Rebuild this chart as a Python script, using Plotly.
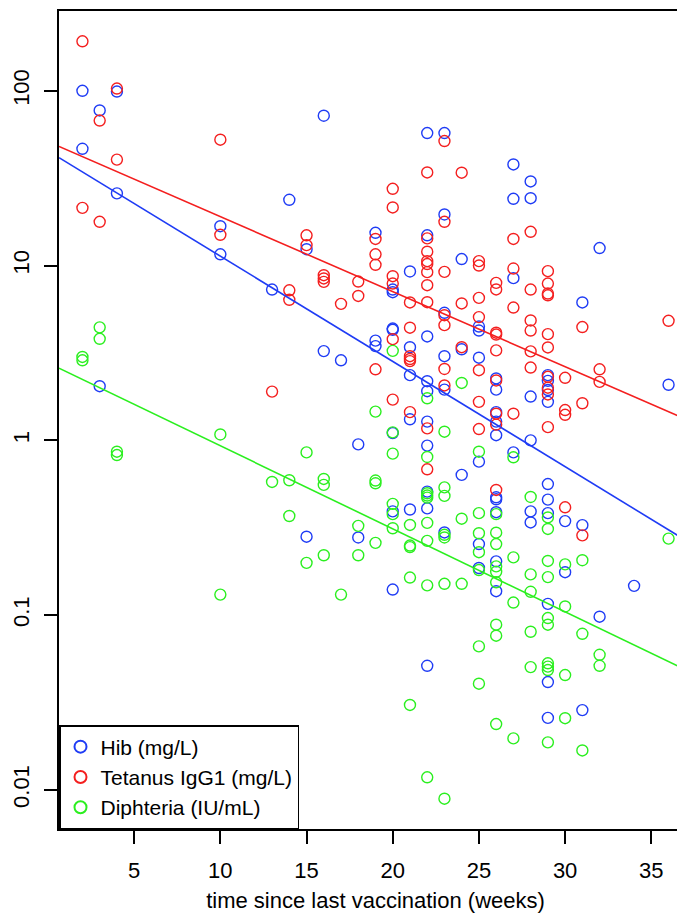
import numpy as np
import plotly.graph_objects as go

# ---------------- data ----------------
hib_weeks = [2, 2, 3, 3, 4, 4, 10, 10, 13, 14, 15, 15, 16, 16, 17, 18, 18,
             19, 19, 19,
             20, 20, 20, 20, 20, 20, 20,
             21, 21, 21, 21, 21,
             22, 22, 22, 22, 22, 22, 22, 22, 22, 22,
             23, 23, 23, 23, 23, 23,
             24, 24, 24,
             25, 25, 25, 25, 25, 25,
             26, 26, 26, 26, 26, 26, 26, 26, 26, 26,
             27, 27, 27, 27,
             28, 28, 28, 28, 28, 28,
             29, 29, 29, 29, 29, 29, 29, 29, 29, 29,
             30, 30, 31, 31, 31, 32, 32, 34, 36]
hib_values = [100, 46.6, 77.2, 2.04, 99, 25.9, 16.8, 11.6, 7.29, 23.8, 12.4, 0.281, 72, 3.24, 2.87, 0.948, 0.278,
              15.4, 3.72, 3.46,
              7.29, 7.04, 4.36, 4.29, 1.10, 0.392, 0.140,
              9.25, 3.41, 2.36, 1.32, 0.402,
              57.3, 14.9, 3.93, 2.18, 1.91, 1.28, 0.933, 0.509, 0.408, 0.0513,
              57.3, 19.6, 5.37, 3.03, 1.95, 0.297,
              10.9, 3.32, 0.634,
              4.48, 4.25, 2.97, 0.755, 0.255, 0.186,
              2.26, 1.95, 1.45, 1.28, 1.07, 0.472, 0.46, 0.388, 0.203, 0.137,
              37.9, 24.1, 8.47, 0.853,
              30.3, 24.3, 1.78, 1.0, 0.392, 0.339,
              2.36, 2.19, 1.94, 1.66, 0.562, 0.458, 0.383, 0.116, 0.0414, 0.0258,
              0.345, 0.176, 6.15, 0.327, 0.0286, 12.6, 0.0979, 0.147, 2.08]

tet_weeks = [2, 2, 3, 3, 4, 4, 10, 10, 13, 14, 14, 15, 15, 16, 16, 16, 17, 18, 18,
             19, 19, 19, 19,
             20, 20, 20, 20, 20, 20,
             21, 21, 21, 21, 21, 21,
             22, 22, 22, 22, 22, 22, 22, 22, 22, 22,
             23, 23, 23, 23, 23, 23, 23,
             24, 24, 24,
             25, 25, 25, 25, 25, 25, 25,
             26, 26, 26, 26, 26, 26, 26, 26, 26,
             27, 27, 27, 27,
             28, 28, 28, 28, 28, 28,
             29, 29, 29, 29, 29, 29, 29, 29, 29, 29,
             30, 30, 30, 30,
             31, 31, 31, 32, 32, 36]
tet_values = [192, 21.4, 67.6, 17.8, 103, 40.4, 52.5, 15.0, 1.90, 7.22, 6.37, 14.9, 13.1, 8.81, 8.44, 8.07, 6.04, 8.1, 6.7,
              14.2, 11.6, 10.1, 2.55,
              27.5, 21.5, 8.69, 7.89, 3.79, 1.71,
              6.15, 4.41, 3.03, 2.92, 2.84, 1.45,
              34.1, 14.3, 12.0, 10.6, 10.2, 9.17, 7.72, 6.17, 1.17, 0.683,
              51.6, 17.8, 9.2, 5.2, 4.56, 2.56, 2.06,
              34.0, 6.07, 3.41,
              10.6, 10.0, 6.53, 5.07, 2.52, 1.66, 1.16,
              7.96, 7.3, 4.13, 4.03, 3.27, 2.2, 1.42, 1.23, 0.52,
              14.2, 9.62, 5.75, 1.42,
              15.6, 7.29, 4.85, 4.25, 3.23, 2.61,
              9.29, 7.89, 6.92, 6.76, 4.05, 3.40, 2.31, 2.0, 1.83, 1.19,
              2.28, 1.49, 1.40, 0.414,
              4.45, 1.63, 0.286, 2.55, 2.16, 4.83]

dip_weeks = [2, 2, 3, 3, 4, 4, 10, 10, 13, 14, 14, 15, 15, 16, 16, 16, 17, 18, 18,
             19, 19, 19, 19,
             20, 20, 20, 20, 20, 20,
             21, 21, 21, 21, 21,
             22, 22, 22, 22, 22, 22, 22, 22, 22,
             23, 23, 23, 23, 23, 23, 23,
             24, 24, 24,
             25, 25, 25, 25, 25, 25, 25,
             26, 26, 26, 26, 26, 26, 26, 26, 26,
             27, 27, 27, 27,
             28, 28, 28, 28, 28,
             29, 29, 29, 29, 29, 29, 29, 29, 29, 29,
             30, 30, 30, 30,
             31, 31, 31, 32, 32, 36]
dip_values = [3.0, 2.87, 4.43, 3.81, 0.861, 0.824, 1.08, 0.131, 0.578, 0.591, 0.369, 0.853, 0.199, 0.601, 0.556, 0.220, 0.131, 0.324, 0.220,
              1.46, 0.589, 0.568, 0.259,
              3.25, 1.11, 0.839, 0.433, 0.378, 0.314,
              0.328, 0.250, 0.245, 0.164, 0.0306,
              1.74, 0.803, 0.498, 0.483, 0.470, 0.337, 0.266, 0.148, 0.0118,
              1.12, 0.538, 0.481, 0.288, 0.278, 0.151, 0.0089,
              2.13, 0.356, 0.151,
              0.861, 0.383, 0.294, 0.229, 0.181, 0.0662, 0.0405,
              0.378, 0.296, 0.255, 0.19, 0.177, 0.154, 0.0881, 0.0762, 0.0238,
              0.80, 0.214, 0.118, 0.0197,
              0.474, 0.171, 0.136, 0.0803, 0.0504,
              0.362, 0.311, 0.204, 0.165, 0.0962, 0.0881, 0.053, 0.0507, 0.0485, 0.0187,
              0.195, 0.112, 0.0454, 0.0257,
              0.206, 0.0782, 0.0168, 0.0593, 0.0513, 0.274]

series_names = ["Hib (mg/L)", "Tetanus IgG1 (mg/L)", "Diphteria (IU/mL)"]
series_colors = ["#1f3cf5", "#f41f1f", "#2bef1f"]
x_ticks = [5, 10, 15, 20, 25, 30, 35]
y_ticks = [0.01, 0.1, 1, 10, 100]
y_tick_text = ["0.01", "0.1", "1", "10", "100"]
x_title = "time since last vaccination (weeks)"

# ---------------- figure ----------------
FONT = "Liberation Sans, Arial, Helvetica, sans-serif"
all_w = np.array(hib_weeks + tet_weeks + dip_weeks, dtype=float)
all_v = np.log10(np.array(hib_values + tet_values + dip_values, dtype=float))
xr = [all_w.min() - 0.04 * np.ptp(all_w), all_w.max() + 0.04 * np.ptp(all_w)]
yr = [all_v.min() - 0.04 * np.ptp(all_v), all_v.max() + 0.04 * np.ptp(all_v)]

fig = go.Figure()
data = [(hib_weeks, hib_values), (tet_weeks, tet_values), (dip_weeks, dip_values)]
for (w, v), name, col in zip(data, series_names, series_colors):
    m = min(len(w), len(v))
    fig.add_trace(go.Scatter(
        x=w[:m], y=v[:m], mode="markers", name=name,
        marker=dict(symbol="circle-open", size=11, color=col, line=dict(width=1.4, color=col)),
    ))

for (w, v), col in zip(data, series_colors):
    m = min(len(w), len(v))
    slope, icpt = np.polyfit(np.array(w[:m], float), np.log10(np.array(v[:m], float)), 1)
    xs = np.array(xr)
    fig.add_trace(go.Scatter(
        x=xs, y=10 ** (icpt + slope * xs), mode="lines", showlegend=False,
        line=dict(color=col, width=1.6), hoverinfo="skip",
    ))

fig.update_layout(
    width=685, height=916,
    margin=dict(l=51, r=1, t=3, b=95, autoexpand=False),
    paper_bgcolor="white", plot_bgcolor="white",
    font=dict(family=FONT, size=22, color="black"),
    showlegend=True,
    legend=dict(
        x=0, y=0, xanchor="left", yanchor="bottom",
        bgcolor="white", bordercolor="black", borderwidth=1.5,
        font=dict(family=FONT, size=21, color="black"),
        itemsizing="constant", tracegroupgap=0,
    ),
)
fig.update_xaxes(
    range=xr, tickvals=x_ticks, ticks="outside", ticklen=13, tickwidth=1.5,
    tickcolor="black", showline=True, linecolor="black", linewidth=1.5, mirror=True,
    showgrid=False, zeroline=False, automargin=False, ticklabelstandoff=8,
    tickfont=dict(family=FONT, size=22),
    title=dict(text=x_title, font=dict(family=FONT, size=22), standoff=10),
)
fig.update_yaxes(
    type="log", range=yr, tickvals=y_ticks, ticktext=y_tick_text, ticks="outside",
    ticklen=13, tickwidth=1.5, tickcolor="black", tickangle=-90,
    showline=True, linecolor="black", linewidth=1.5, mirror=True,
    showgrid=False, zeroline=False, automargin=False, ticklabelstandoff=6,
    tickfont=dict(family=FONT, size=22),
)

fig.write_html("out.html")
